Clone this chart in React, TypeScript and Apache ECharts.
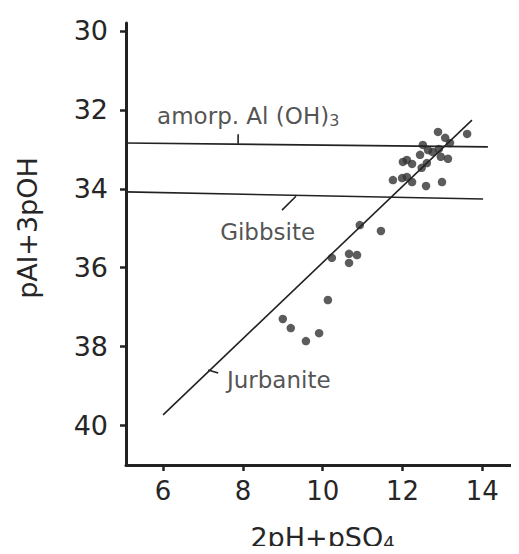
import React, { useEffect, useRef } from "react";
import * as echarts from "echarts";

const xTicks = [6, 8, 10, 12, 14];
const yTicks = [30, 32, 34, 36, 38, 40];

// Measured points [2pH+pSO4, pAl+3pOH]
const samples: [number, number][] = [
  [10.93, 34.92], [11.46, 35.07], [10.23, 35.75], [10.66, 35.65], [10.86, 35.68],
  [10.66, 35.88], [10.13, 36.82], [9.0, 37.3], [9.2, 37.53], [9.58, 37.86], [9.91, 37.66],
  [13.62, 32.61], [12.89, 32.56], [13.07, 32.71], [13.19, 32.84], [12.51, 32.89],
  [12.76, 33.07], [12.64, 33.02], [12.91, 32.99], [12.44, 33.14], [13.14, 33.24],
  [12.96, 33.19], [12.61, 33.35], [12.01, 33.32], [12.24, 33.37], [12.11, 33.27],
  [12.48, 33.47], [11.76, 33.78], [11.99, 33.73], [12.11, 33.7], [12.24, 33.83],
  [12.99, 33.83], [12.59, 33.93],
];

const amorphLine: [number, number][] = [[5.07, 32.84], [14.14, 32.94]];
const gibbsiteLine: [number, number][] = [[5.07, 34.08], [14.02, 34.26]];
const jurbaniteLine: [number, number][] = [[6.0, 39.73], [13.74, 32.26]];

const amorphLeader: [number, number][] = [[7.88, 32.62], [7.88, 32.86]];
const gibbsiteLeader: [number, number][] = [[8.98, 34.54], [9.33, 34.19]];
const jurbaniteLeader: [number, number][] = [[7.13, 38.59], [7.38, 38.67]];

const labelNames = ["amorph", "gibbsite", "jurbanite"];
const labelPos: [number, number][] = [[5.85, 32.15], [7.43, 35.1], [7.6, 38.85]];
const labelTexts = ["amorp. Al (OH){sub|3}", "Gibbsite", "Jurbanite"];

const INK = "#222222";
const TXT = "#262626";
const FONT = "'DejaVu Sans', sans-serif";

export default function App() {
  const ref = useRef<HTMLDivElement>(null);
  useEffect(() => {
    if (!ref.current) return;
    const chart = echarts.init(ref.current, undefined, { renderer: "svg" });
    const lineSeries = (data: [number, number][], w = 1.6) => ({
      type: "line",
      data,
      symbol: "none",
      silent: true,
      lineStyle: { color: INK, width: w },
    });
    chart.setOption({
      animation: false,
      backgroundColor: "#ffffff",
      grid: { left: 126, right: 0, top: 23, bottom: 89, outerBoundsMode: "none", containLabel: false },
      xAxis: {
        type: "value",
        min: 5.07,
        max: 14.92,
        name: "2pH+pSO{sub|4}",
        nameLocation: "middle",
        nameGap: 59,
        nameTextStyle: {
          fontFamily: FONT,
          fontSize: 27,
          lineHeight: 27,
          color: TXT,
          rich: { sub: { fontFamily: FONT, fontSize: 18, lineHeight: 18, color: TXT, verticalAlign: "bottom", padding: [6, 0, 0, 0] } },
        },
        splitLine: { show: false },
        axisLine: { onZero: false, lineStyle: { color: INK, width: 3 } },
        axisTick: { customValues: xTicks, length: 6, lineStyle: { color: INK, width: 2.5 } },
        axisLabel: { customValues: xTicks, fontFamily: FONT, fontSize: 26, color: TXT, margin: 13 },
      },
      yAxis: {
        type: "value",
        inverse: true,
        min: 29.8,
        max: 41,
        splitLine: { show: false },
        axisLine: { onZero: false, lineStyle: { color: INK, width: 3 } },
        axisTick: { customValues: yTicks, length: 6, lineStyle: { color: INK, width: 2.5 } },
        axisLabel: { customValues: yTicks, fontFamily: FONT, fontSize: 27, color: TXT, margin: 18 },
      },
      graphic: [
        {
          type: "text",
          x: 27,
          y: 228,
          rotation: Math.PI / 2,
          style: {
            text: "pAl+3pOH",
            fontFamily: FONT,
            fontSize: 27,
            fill: TXT,
            align: "center",
            verticalAlign: "middle",
          },
        },
      ],
      series: [
        lineSeries(amorphLine),
        lineSeries(gibbsiteLine),
        lineSeries(jurbaniteLine),
        lineSeries(amorphLeader),
        lineSeries(gibbsiteLeader),
        lineSeries(jurbaniteLeader),
        {
          type: "scatter",
          data: samples,
          symbol: "circle",
          symbolSize: 8.5,
          itemStyle: { color: "#333333" },
        },
        {
          type: "scatter",
          data: labelPos.map((p, i) => ({ name: labelNames[i], value: p })),
          symbolSize: 0,
          silent: true,
          label: {
            show: true,
            position: "right",
            distance: 0,
            formatter: (p: any) => labelTexts[p.dataIndex],
            fontFamily: FONT,
            fontSize: 23,
            color: TXT,
            rich: {
              sub: { fontFamily: FONT, fontSize: 16, color: TXT, verticalAlign: "bottom", padding: [10, 0, 0, 0] },
            },
          },
        },
      ],
    });
    return () => chart.dispose();
  }, []);
  return <div ref={ref} style={{ width: 519, height: 554, margin: -8 }} />;
}
